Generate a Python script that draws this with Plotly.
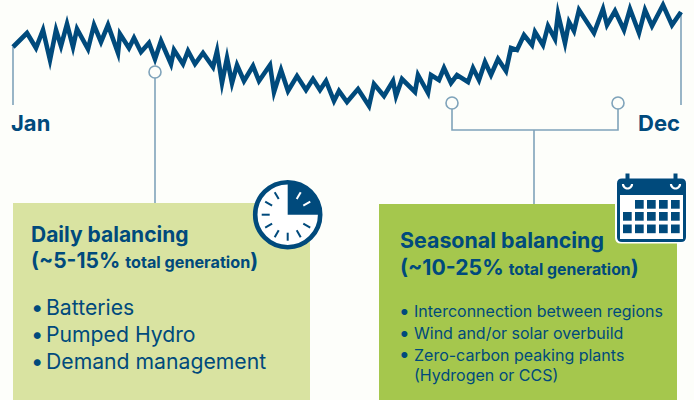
import math
import plotly.graph_objects as go

# Schematic load curve (position along the year, height on the reversed axis)
curve_x = [13,27,36,43,50,56,61,67,73,77,88,94,101,108,118,120,129,134,141,149,155,161,171,174,183,188,195,203,213,217,222,227,232,237,244,253,259,270,274,281,288,297,306,313,320,326,334,339,347,358,369,374,384,393,396,402,415,418,428,431,439,444,451,457,468,473,479,485,491,498,506,511,517,524,532,535,543,548,555,558,565,569,574,579,594,603,607,615,624,630,639,645,652,663,672,681]
curve_y = [47,33,48,30,60,30,46,24,47,29,49,25,42,25,53,34,48,38,52,43,59,41,64,50,64,51,64,53,67,51,83,58,83,65,81,66,81,65,92,70,91,76,90,79,90,81,101,91,102,89,106,84,96,81,96,79,92,75,93,75,80,68,83,75,82,68,80,62,75,59,71,48,50,35,45,32,45,26,39,14,43,22,31,10,33,9,25,11,30,9,33,10,26,5,25,12]

month_labels = ["Jan", "Dec"]
box_titles = ["Daily balancing", "Seasonal balancing"]
daily_items = ["Batteries", "Pumped Hydro", "Demand management"]
seasonal_items = ["Interconnection between regions", "Wind and/or solar overbuild", "Zero-carbon peaking plants", "(Hydrogen or CCS)"]

NAVY = "#004a7c"
LEAD = "#7fa3ba"
BG = "#fdfefa"
FONT = "Inter"

fig = go.Figure()

def leader(xs, ys):
    fig.add_trace(go.Scatter(x=xs, y=ys, mode="lines", line=dict(color=LEAD, width=1.6), hoverinfo="skip"))

leader([13, 13], [47, 105])
leader([681, 681], [12, 105])
leader([155, 155], [72, 204])
leader([452, 452, 618, 618], [103, 130, 130, 103])
leader([534, 534], [130, 204])

fig.add_trace(go.Scatter(x=curve_x, y=curve_y, mode="lines",
                         line=dict(color=NAVY, width=4.6), hoverinfo="skip"))
fig.add_trace(go.Scatter(x=[155, 452, 618], y=[72, 103, 103], mode="markers",
                         marker=dict(size=12, color=BG, line=dict(color=LEAD, width=1.6)), hoverinfo="skip"))

shapes = []
def rect(x0, y0, x1, y1, fill, line=None, w=0):
    shapes.append(dict(type="rect", x0=x0, y0=y0, x1=x1, y1=y1, fillcolor=fill,
                       line=dict(color=line or fill, width=w), layer="above"))

def rrect(x0, y0, x1, y1, r, fill, line=None, w=0):
    p = (f"M{x0+r},{y0} L{x1-r},{y0} Q{x1},{y0} {x1},{y0+r} L{x1},{y1-r} Q{x1},{y1} {x1-r},{y1} "
         f"L{x0+r},{y1} Q{x0},{y1} {x0},{y1-r} L{x0},{y0+r} Q{x0},{y0} {x0+r},{y0} Z")
    shapes.append(dict(type="path", path=p, fillcolor=fill, line=dict(color=line or fill, width=w), layer="above"))

def seg(x0, y0, x1, y1, color, w):
    shapes.append(dict(type="line", x0=x0, y0=y0, x1=x1, y1=y1, line=dict(color=color, width=w), layer="above"))

# Panels
rect(13, 203, 310, 400, "#d9e3a1")
rect(379, 204, 677, 400, "#a5c74d")

# Clock icon
cx, cy, R = 287.7, 214.7, 32.5
shapes.append(dict(type="circle", x0=cx-R, y0=cy-R, x1=cx+R, y1=cy+R, fillcolor="white",
                   line=dict(color=NAVY, width=4.6), layer="above"))
rw = R - 1
arc = " ".join(f"L{cx+rw*math.sin(math.radians(t)):.2f},{cy-rw*math.cos(math.radians(t)):.2f}" for t in range(0, 91, 5))
shapes.append(dict(type="path", path=f"M{cx},{cy} {arc} Z",
                   fillcolor=NAVY, line=dict(color=NAVY, width=0), layer="above"))
for h in range(1, 12):
    a = math.radians(h * 30)
    c = "white" if h < 3 else NAVY
    if h == 3:
        continue
    r0, r1 = (18, 26)
    seg(cx + r0*math.sin(a), cy - r0*math.cos(a), cx + r1*math.sin(a), cy - r1*math.cos(a), c, 2)

# Calendar icon
rrect(615, 176.5, 687.5, 243.5, 6, "white")
rrect(617, 178.5, 686, 242, 5, NAVY)
rect(620, 195, 683, 239, "white")
for rx in (627.5, 675.5):
    seg(rx, 173.5, rx, 186, NAVY, 4)
    u = " ".join(f"L{rx+4.5*math.cos(math.radians(t)):.2f},{184+4.5*math.sin(math.radians(t)):.2f}" for t in range(170, -1, -10))
    shapes.append(dict(type="path", path=f"M{rx-4.5},184 {u}",
                       line=dict(color="white", width=2.2), layer="above"))
cols = [623, 635, 647, 659, 671]
rows = [200, 212, 224.5]
for j, ry in enumerate(rows):
    for i, qx in enumerate(cols):
        if j == 0 and i == 0:
            continue
        rect(qx, ry, qx + 8.7, ry + 8.7, NAVY)

anns = []
def text(x, y, s, size, weight=400):
    anns.append(dict(x=x - 2, y=y, xref="x", yref="y", text=s, showarrow=False, xanchor="left", yanchor="middle",
                     align="left", font=dict(family=FONT, size=size, color=NAVY, weight=weight)))

text(11, 123, month_labels[0], 22, 700)
text(638, 123, month_labels[1], 22, 700)

text(31, 234, box_titles[0], 21, 700)
text(31, 260, "(~5-15% <span style='font-size:16.2px'>total generation</span>)", 21, 700)
for y, item in zip((307, 334, 361), daily_items):
    text(31, y, "•", 22)
    text(46, y, item, 21.2)

text(400, 240, box_titles[1], 21.4, 700)
text(400, 267, "(~10-25% <span style='font-size:15.8px'>total generation</span>)", 21.2, 700)
for y, item in zip((311, 333, 354.5, 375), seasonal_items):
    text(414, y, item, 16)
for y in (311, 333, 354.5):
    text(399, y, "•", 19)

fig.update_layout(
    width=694, height=400, margin=dict(l=0, r=0, t=0, b=0), showlegend=False,
    paper_bgcolor=BG, plot_bgcolor=BG, shapes=shapes, annotations=anns, hovermode=False,
    xaxis=dict(range=[0, 694], visible=False, fixedrange=True),
    yaxis=dict(range=[400, 0], visible=False, fixedrange=True),
)
post = """
document.body.style.margin='0';
document.body.style.background='#fdfefa';
document.querySelectorAll('path.js-line').forEach(function(p){p.style.strokeMiterlimit='10';p.style.strokeLinejoin='miter';});
"""
fig.write_html("out.html", config=dict(displayModeBar=False), post_script=post)
